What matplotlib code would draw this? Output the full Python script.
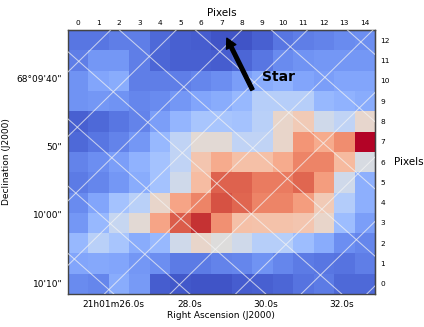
import numpy as np
import matplotlib
matplotlib.use("Agg")
import matplotlib.pyplot as plt

# Flux map (normalised), rows listed from top (pixel row 12) down to bottom (row 0)
flux_rows_top_down = [
    [0.10, 0.10, 0.12, 0.12, 0.07, 0.05, 0.04, 0.02, 0.02, 0.05, 0.10, 0.12, 0.13, 0.15, 0.16],
    [0.12, 0.18, 0.18, 0.12, 0.06, 0.05, 0.05, 0.04, 0.06, 0.10, 0.15, 0.17, 0.18, 0.18, 0.18],
    [0.17, 0.22, 0.24, 0.12, 0.12, 0.12, 0.14, 0.16, 0.20, 0.24, 0.26, 0.22, 0.20, 0.22, 0.22],
    [0.17, 0.18, 0.17, 0.14, 0.15, 0.18, 0.22, 0.24, 0.28, 0.37, 0.37, 0.37, 0.28, 0.26, 0.24],
    [0.05, 0.07, 0.10, 0.13, 0.20, 0.27, 0.33, 0.33, 0.32, 0.38, 0.55, 0.60, 0.45, 0.40, 0.54],
    [0.07, 0.10, 0.13, 0.18, 0.28, 0.40, 0.52, 0.52, 0.40, 0.40, 0.55, 0.76, 0.70, 0.78, 1.00],
    [0.13, 0.16, 0.20, 0.26, 0.32, 0.40, 0.62, 0.70, 0.64, 0.64, 0.70, 0.80, 0.80, 0.66, 0.48],
    [0.11, 0.14, 0.18, 0.24, 0.32, 0.45, 0.65, 0.87, 0.87, 0.82, 0.82, 0.86, 0.74, 0.45, 0.25],
    [0.15, 0.22, 0.32, 0.38, 0.55, 0.72, 0.80, 0.90, 0.86, 0.80, 0.80, 0.74, 0.60, 0.36, 0.25],
    [0.18, 0.28, 0.42, 0.52, 0.72, 0.88, 0.95, 0.77, 0.64, 0.63, 0.63, 0.62, 0.55, 0.30, 0.20],
    [0.28, 0.38, 0.33, 0.24, 0.28, 0.45, 0.55, 0.50, 0.45, 0.37, 0.37, 0.30, 0.24, 0.16, 0.14],
    [0.22, 0.23, 0.22, 0.18, 0.16, 0.11, 0.11, 0.13, 0.14, 0.17, 0.14, 0.11, 0.10, 0.09, 0.12],
    [0.15, 0.14, 0.24, 0.19, 0.04, 0.03, 0.02, 0.02, 0.04, 0.05, 0.06, 0.09, 0.11, 0.07, 0.07],
]

# World-coordinate tick values
ra_tick_seconds = [26.0, 28.0, 30.0, 32.0]
ra_tick_labels = ["21h01m26.0s", "28.0s", "30.0s", "32.0s"]
dec_tick_arcsec = [40, 50, 60, 70]          # arcsec past 68°09'00"
dec_tick_labels = ["68°09'40\"", "50\"", "10'00\"", "10'10\""]
ra_grid_seconds = list(range(20, 44, 2))
dec_grid_arcsec = list(range(0, 130, 10))

# Linear pseudo-WCS (pixel -> sky), rotated frame
RA0, RA_DX, RA_DY = 25.3608, 0.5387, 0.6039
DEC0, DEC_DX, DEC_DY = 74.41, 3.120, -3.149
# Dec axis label placement along the left edge (pixel row per arcsec)
DEC_LABEL_Y0, DEC_LABEL_SCALE = 23.6, -0.3367

# Star annotation
star_label = "Star"
star_tip = (7.27, 12.1)
star_tail = (8.52, 9.56)
star_text_pos = (9.0, 10.18)

data = np.flipud(np.array(flux_rows_top_down))
ny, nx = data.shape

fig = plt.figure(figsize=(4.24, 3.27), dpi=100)
ax = fig.add_axes([0.160, 0.101, 0.724, 0.807])
ax.imshow(data, cmap="coolwarm", origin="lower", vmin=0, vmax=1,
          aspect="auto", interpolation="nearest",
          extent=(-0.5, nx - 0.5, -0.5, ny - 0.5), zorder=0)

# coordinate grid: straight lines of constant RA / Dec
gx = np.linspace(-2.0, nx + 1.0, 50)
for lev in ra_grid_seconds:
    ax.plot(gx, (lev - RA0 - RA_DX * gx) / RA_DY, color="#f4f4f4", lw=0.75, alpha=0.7,
            zorder=3, solid_capstyle="butt")
for lev in dec_grid_arcsec:
    ax.plot(gx, (lev - DEC0 - DEC_DX * gx) / DEC_DY, color="#f4f4f4", lw=0.75, alpha=0.7,
            zorder=3, solid_capstyle="butt")
ax.set_xlim(-0.5, nx - 0.5)
ax.set_ylim(-0.5, ny - 0.5)

# bottom RA ticks: where RA lines meet the bottom edge
yb = -0.5
ra_pos = [(r - RA0 - RA_DY * yb) / RA_DX for r in ra_tick_seconds]
ax.set_xticks(ra_pos)
ax.set_xticklabels(ra_tick_labels, fontsize=6.5)
dec_pos = [DEC_LABEL_Y0 + DEC_LABEL_SCALE * d for d in dec_tick_arcsec]
ax.set_yticks(dec_pos)
ax.set_yticklabels(dec_tick_labels, fontsize=6.5)
ax.tick_params(axis="both", length=0, pad=4)
ax.set_xlabel("Right Ascension (J2000)", fontsize=6.5, labelpad=2)
ax.set_ylabel("Declination (J2000)", fontsize=6.5, labelpad=4)

for s in ax.spines.values():
    s.set_color("#444444")
    s.set_linewidth(1.0)

top = ax.secondary_xaxis("top")
top.set_xticks(range(nx))
top.set_xticklabels([str(i) for i in range(nx)], fontsize=5.3)
top.tick_params(length=0, pad=3)
top.set_xlabel("Pixels", fontsize=7.5, labelpad=3)

right = ax.secondary_yaxis("right")
right.set_yticks(range(ny))
right.set_yticklabels([str(i) for i in range(ny)], fontsize=5.3)
right.tick_params(length=0, pad=4)
right.set_ylabel("Pixels", fontsize=7.5, rotation=0, ha="left", va="center", labelpad=3)

ax.annotate("", xy=star_tip, xytext=star_tail,
            arrowprops=dict(facecolor="black", edgecolor="black", width=2.6,
                            headwidth=7.5, headlength=7, shrink=0), zorder=5)
ax.text(star_text_pos[0], star_text_pos[1], star_label, fontsize=10,
        fontweight="bold", ha="left", va="center", color="black", zorder=5)

fig.savefig("out.png", dpi=100)
